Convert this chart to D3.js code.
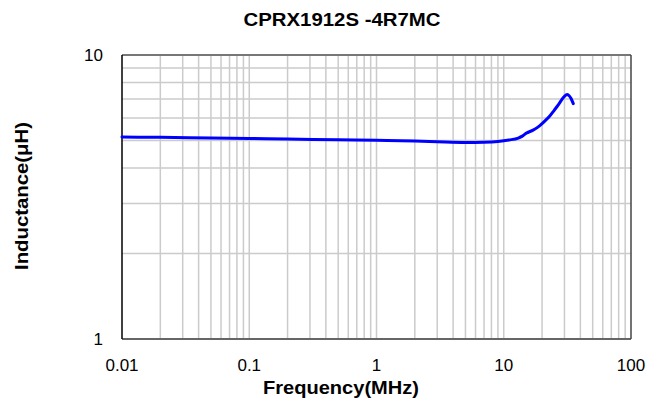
<!DOCTYPE html>
<html>
<head>
<meta charset="utf-8">
<script src="https://cdn.jsdelivr.net/npm/d3@7/dist/d3.min.js"></script>
<style>
  html, body { margin: 0; padding: 0; background: #fff; }
  svg { display: block; font-family: "Liberation Sans", Arial, sans-serif; }
</style>
</head>
<body>
<svg id="chart" width="663" height="404"></svg>
<script>
const title = "CPRX1912S -4R7MC";
const xLabel = "Frequency(MHz)";
const yLabel = "Inductance(\u03bcH)";
const xTicks = [0.01, 0.1, 1, 10, 100];
const xTickLabels = ["0.01", "0.1", "1", "10", "100"];
const yTicks = [1, 10];
const yTickLabels = ["1", "10"];
const freq = [0.01, 0.02, 0.05, 0.1, 0.2, 0.5, 1, 2, 3, 5, 7, 9, 11, 13, 14, 15, 17, 19, 21, 23, 25, 27, 29, 30, 31.4, 32.5, 33.8, 35.2];
const inductance = [5.14, 5.13, 5.10, 5.08, 5.06, 5.03, 5.01, 4.98, 4.95, 4.92, 4.93, 4.96, 5.02, 5.10, 5.18, 5.30, 5.44, 5.62, 5.85, 6.10, 6.40, 6.70, 7.03, 7.15, 7.26, 7.20, 7.03, 6.74];

const svg = d3.select("#chart");
const m = { left: 122, right: 631, top: 55, bottom: 339 };
const x = d3.scaleLog().domain([0.01, 100]).range([m.left, m.right]);
const y = d3.scaleLog().domain([1, 10]).range([m.bottom, m.top]);

// minor grid values
const xGrid = [];
for (let d = 0.01; d < 100; d *= 10) for (let k = 1; k <= 9; k++) xGrid.push(d * k);
const yGrid = [2, 3, 4, 5, 6, 7, 8, 9];

const g = svg.append("g");
g.selectAll("line.gx").data(xGrid.filter(v => v > 0.01)).enter().append("line")
  .attr("x1", d => x(d)).attr("x2", d => x(d))
  .attr("y1", m.top).attr("y2", m.bottom)
  .attr("stroke", "#cbcbcb").attr("stroke-width", 1.5);
g.selectAll("line.gy").data(yGrid).enter().append("line")
  .attr("x1", m.left).attr("x2", m.right)
  .attr("y1", d => y(d)).attr("y2", d => y(d))
  .attr("stroke", "#cbcbcb").attr("stroke-width", 1.5);

// frame
svg.append("line").attr("x1", m.left).attr("x2", m.right).attr("y1", m.top).attr("y2", m.top).attr("stroke", "#777").attr("stroke-width", 2);
svg.append("line").attr("x1", m.left).attr("x2", m.right).attr("y1", m.bottom).attr("y2", m.bottom).attr("stroke", "#666").attr("stroke-width", 2);
svg.append("line").attr("x1", m.right).attr("x2", m.right).attr("y1", m.top).attr("y2", m.bottom).attr("stroke", "#444").attr("stroke-width", 1.5);
svg.append("line").attr("x1", m.left).attr("x2", m.left).attr("y1", m.top).attr("y2", m.bottom).attr("stroke", "#000").attr("stroke-width", 1.5);

// curve
const pts = freq.map((f, i) => [f, inductance[i]]);
svg.append("path").datum(pts)
  .attr("fill", "none").attr("stroke", "#0000ff").attr("stroke-width", 3)
  .attr("stroke-linejoin", "round").attr("stroke-linecap", "round")
  .attr("d", d3.line().x(d => x(d[0])).y(d => y(d[1])).curve(d3.curveMonotoneX));

// tick labels
svg.selectAll("text.xt").data(xTicks).enter().append("text")
  .attr("x", d => x(d)).attr("y", 371)
  .attr("text-anchor", "middle").attr("font-size", 17).attr("fill", "#000")
  .text((d, i) => xTickLabels[i]);
svg.selectAll("text.yt").data(yTicks).enter().append("text")
  .attr("x", 103).attr("y", d => y(d) + 6)
  .attr("text-anchor", "end").attr("font-size", 17).attr("fill", "#000")
  .text((d, i) => yTickLabels[i]);

// titles
svg.append("text").attr("x", 342).attr("y", 25.5).attr("text-anchor", "middle")
  .attr("font-size", 17.5).attr("font-weight", "bold")
  .attr("textLength", 197).attr("lengthAdjust", "spacingAndGlyphs")
  .text(title);
svg.append("text").attr("x", 341).attr("y", 394).attr("text-anchor", "middle")
  .attr("font-size", 18).attr("font-weight", "bold")
  .attr("textLength", 156).attr("lengthAdjust", "spacingAndGlyphs")
  .text(xLabel);
svg.append("text").attr("transform", "translate(28,196) rotate(-90)").attr("text-anchor", "middle")
  .attr("font-size", 18).attr("font-weight", "bold")
  .attr("textLength", 148).attr("lengthAdjust", "spacingAndGlyphs")
  .text(yLabel);
</script>
</body>
</html>
